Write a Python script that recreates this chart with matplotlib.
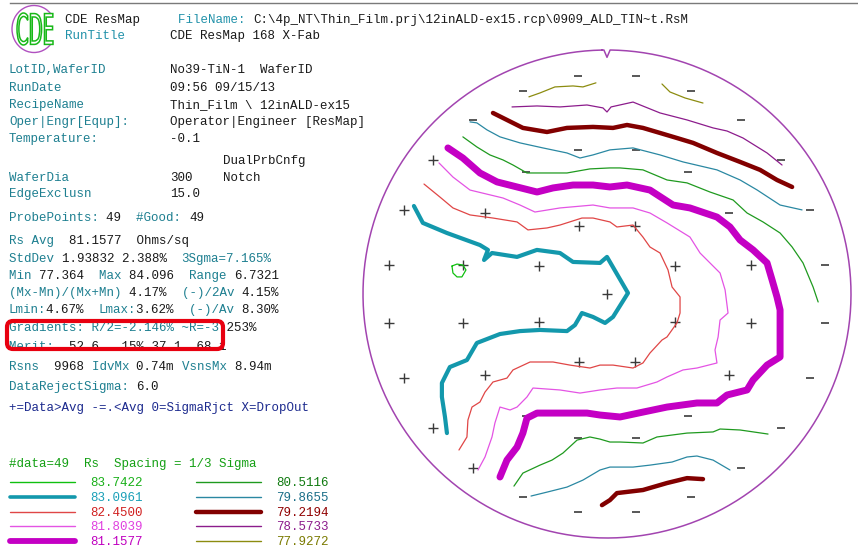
import numpy as np
import matplotlib
matplotlib.use("Agg")
import matplotlib.pyplot as plt
from matplotlib.patches import Arc, FancyBboxPatch, PathPatch
from matplotlib.textpath import TextPath
from matplotlib.font_manager import FontProperties
from matplotlib.transforms import Affine2D

# ---------------- data ----------------
levels = [83.7422, 83.0961, 82.4500, 81.8039, 81.1577,
          80.5116, 79.8655, 79.2194, 78.5733, 77.9272]

# contour paths (wafer coordinates, mm)
c_83_7422 = [[(-95.3, 17.2), (-92.2, 18.4), (-88.6, 17.8), (-86.7, 14.8), (-89.2, 10.5),
              (-92.2, 10.5), (-94.7, 12.9), (-95.3, 17.2)]]
c_83_0961 = [[(-118.7, 54.1), (-113.2, 43.7), (-98.4, 37.5), (-78.1, 30.1), (-73.2, 27.1),
              (-75.6, 20.9), (-70.7, 25.2), (-55.3, 22.8), (-43.1, 27.1), (-28.9, 25.2),
              (-20.9, 19.7), (-4.3, 19.1), (0.0, 22.8), (12.9, 0.6), (3.7, -14.1),
              (-1.2, -17.8), (-8.6, -14.1), (-15.4, -11.7), (-19.7, -19.1), (-24.6, -22.8),
              (-41.2, -22.1), (-53.5, -22.8), (-65.8, -24.6), (-80.0, -30.1), (-86.1, -40.6),
              (-96.6, -44.9), (-101.5, -54.7), (-101.5, -63.3), (-99.6, -75.6), (-98.4, -85.5)]]
c_82_4500 = [[(-112.5, 67.6), (-102.7, 59.6), (-94.7, 52.9), (-84.2, 48.6), (-70.1, 46.7),
              (-55.3, 44.3), (-48.6, 39.4), (-36.9, 40.6), (-28.9, 42.4), (-15.4, 46.7),
              (-8.6, 46.7), (1.8, 44.3), (6.1, 41.2), (16.0, 42.4), (22.1, 35.0),
              (26.4, 28.9), (32.6, 25.2), (37.5, 14.8), (40.0, 4.3), (44.9, -1.8),
              (44.9, -11.7), (43.0, -17.8), (36.9, -26.4), (33.8, -28.3), (26.4, -36.3),
              (22.1, -42.4), (16.0, -45.5), (3.7, -43.7), (-4.3, -43.7), (-10.5, -45.5),
              (-22.8, -43.7), (-33.2, -41.8), (-47.3, -41.8), (-57.8, -46.7), (-61.5, -51.7),
              (-70.1, -54.1), (-75.0, -60.3), (-78.1, -66.4), (-83.0, -69.5), (-85.5, -77.5),
              (-86.1, -87.9), (-91.0, -95.9)]]
c_81_8039 = [[(-103.3, 80.6), (-94.7, 71.9), (-84.2, 63.9), (-63.9, 59.0), (-53.5, 54.7),
              (-44.3, 50.4), (-28.9, 52.9), (-8.6, 54.7), (1.8, 52.9), (16.0, 52.9),
              (26.4, 49.8), (36.9, 43.7), (51.0, 35.0), (57.2, 25.2), (63.3, 19.1),
              (69.5, 12.9), (72.6, 2.5), (74.4, -11.7), (69.5, -16.0), (68.3, -26.4),
              (66.4, -34.4), (67.6, -42.4), (55.3, -45.5), (46.7, -46.7), (36.9, -51.0),
              (30.7, -54.1), (18.4, -57.8), (6.1, -57.8), (-4.3, -59.0), (-16.6, -60.9),
              (-28.9, -59.0), (-45.5, -57.8), (-49.2, -63.3), (-55.3, -69.5), (-59.6, -71.3),
              (-65.8, -69.5), (-68.9, -79.3), (-70.7, -87.9), (-75.0, -100.2), (-79.3, -108.2)]]
c_81_1577 = [[(-97.8, 89.8), (-88.6, 83.6), (-78.1, 74.4), (-67.6, 68.9), (-55.3, 65.8),
              (-43.0, 62.7), (-33.2, 65.2), (-20.9, 67.0), (-8.6, 67.0), (1.8, 65.8),
              (12.3, 67.0), (26.4, 63.9), (40.6, 54.7), (51.0, 52.9), (67.6, 47.3),
              (75.6, 41.2), (81.8, 33.2), (89.8, 27.1), (98.4, 19.1), (101.5, 8.6),
              (104.5, -1.8), (106.4, -9.8), (106.4, -38.7), (98.4, -43.7), (89.8, -52.9),
              (86.1, -59.0), (73.8, -62.1), (67.6, -67.0), (55.3, -67.0), (36.9, -69.5),
              (22.1, -72.6), (8.0, -75.6), (-4.3, -74.4), (-12.3, -73.2), (-27.1, -73.2),
              (-43.0, -73.2), (-49.2, -76.3), (-51.7, -85.5), (-55.3, -94.1), (-61.5, -102.1),
              (-65.8, -112.5)]]
c_80_5116 = [[(-88.6, 96.6), (-80.0, 90.4), (-72.0, 85.5), (-63.9, 82.4), (-57.8, 79.3),
              (-49.2, 74.4), (-36.9, 74.4), (-24.6, 74.4), (-10.5, 76.9), (1.8, 77.5),
              (8.0, 77.5), (22.1, 76.3), (36.9, 70.1), (49.2, 68.3), (63.3, 62.7),
              (77.5, 57.8), (86.1, 49.8), (95.9, 44.3), (106.4, 37.5), (113.8, 28.9),
              (120.5, 19.1), (126.7, 4.3), (129.8, -4.9)],
             [(-57.2, -118.1), (-51.7, -110.1), (-41.2, -105.2), (-33.8, -102.1), (-27.1, -97.8),
              (-18.4, -89.8), (-10.5, -87.9), (-4.3, -89.2), (1.8, -91.0), (8.0, -91.0),
              (22.1, -91.6), (30.7, -87.9), (49.2, -85.5), (65.2, -84.8), (69.5, -83.0),
              (81.8, -83.6), (99.0, -86.1)]]
c_79_8655 = [[(-84.2, 105.8), (-80.0, 105.2), (-73.8, 100.9), (-65.8, 96.6), (-53.5, 92.9),
              (-39.4, 89.8), (-24.6, 86.7), (-16.6, 83.6), (-8.6, 85.5), (1.8, 88.6),
              (16.0, 89.8), (32.6, 85.5), (46.7, 81.2), (67.6, 76.3), (81.8, 70.1),
              (92.2, 64.0), (106.4, 54.7), (119.9, 51.7)],
             [(-46.7, -124.2), (-36.9, -121.8), (-24.6, -118.7), (-14.8, -114.4), (-4.3, -108.2),
              (1.8, -106.4), (16.0, -106.4), (26.4, -105.2), (40.0, -103.3), (49.2, -100.2),
              (55.3, -99.6), (65.2, -102.1), (75.6, -108.2)]]
c_79_2194 = [[(-70.1, 111.3), (-61.5, 107.0), (-51.7, 102.1), (-36.9, 99.6), (-24.6, 102.1),
              (-8.6, 102.7), (3.7, 102.1), (12.3, 103.9), (22.1, 102.1), (32.6, 99.0),
              (43.0, 95.9), (52.9, 92.9), (67.6, 86.7), (81.8, 81.2), (94.1, 76.3),
              (104.5, 70.1), (113.8, 65.8)],
             [(-3.1, -129.8), (1.8, -126.7), (6.1, -122.4), (22.1, -120.5), (36.9, -116.2),
              (49.2, -113.2), (59.0, -113.8)]]
c_78_5733 = [[(-58.4, 115.0), (-43.0, 115.6), (-28.9, 115.0), (-12.3, 116.2), (-2.5, 114.4),
              (0.0, 111.9), (2.5, 115.0), (16.0, 118.0), (32.6, 111.3), (49.2, 107.0),
              (65.2, 102.1), (73.8, 100.2), (83.6, 95.9), (98.4, 86.7), (107.6, 79.3)]]
c_77_9272 = [[(-48.0, 121.2), (-41.2, 123.6), (-32.0, 127.3), (-20.9, 127.9), (-14.8, 127.3),
              (-6.8, 129.8)],
             [(33.8, 129.1), (38.7, 124.2), (48.0, 120.5), (59.0, 117.4)]]
contours = [c_83_7422, c_83_0961, c_82_4500, c_81_8039, c_81_1577,
            c_80_5116, c_79_8655, c_79_2194, c_78_5733, c_77_9272]

# 49-point probe pattern: ring radii (mm), counts, start angles (deg), signs
center_sign = "+"
ring_radius = [45, 90, 135]
ring_count = [8, 16, 24]
ring_start = [22.5, 11.25, 7.5]
ring_signs = ["++++++++", "+-----++++----++", "---------+++++++--------"]

# ---------------- styles ----------------
line_colors = ["#10c010", "#1398ac", "#e04646", "#e454e4", "#c400c4",
               "#1f9a1f", "#2a88a2", "#820000", "#8c1c8c", "#8c8c10"]
label_colors = ["#18b018", "#1aa0b8", "#d02020", "#e040e0", "#c000c0",
                "#107a10", "#1a6e88", "#900000", "#8c1c8c", "#7a7a00"]
map_widths = [0.9, 3.0, 0.9, 0.9, 5.0, 0.9, 0.9, 3.2, 0.9, 0.9]
leg_widths = [1.0, 2.6, 1.0, 1.0, 4.2, 1.0, 1.0, 3.2, 1.0, 1.0]

W, H = 858, 547
fig = plt.figure(figsize=(W / 100, H / 100), dpi=100)
fig.patch.set_facecolor("white")

# ---------------- wafer map ----------------
cx, cy, rpx = 607, 294, 244
lim = 160
span = 2 * lim / 150 * rpx
axw = fig.add_axes([(cx - span / 2) / W, (H - cy - span / 2) / H, span / W, span / H])
axw.set_xlim(-lim, lim)
axw.set_ylim(-lim, lim)
axw.axis("off")

# wafer outline with notch
th = np.radians(np.linspace(91.2, 91.2 + 357.6, 720))
ox = list(150 * np.cos(th))
oy = list(150 * np.sin(th))
ox += [1.9, 0.0, -1.9, ox[0]]
oy += [150 * np.sin(np.radians(89.2)), 145.5, 150 * np.sin(np.radians(90.8)), oy[0]]
axw.plot(ox, oy, color="#a244b0", lw=1.1, zorder=2)

# probe points
px, py, ps = [0.0], [0.0], [center_sign]
for r, n, a0, sg in zip(ring_radius, ring_count, ring_start, ring_signs):
    ang = np.radians(a0 + 360.0 / n * np.arange(n))
    px += list(r * np.cos(ang))
    py += list(r * np.sin(ang))
    ps += list(sg)
px, py, ps = np.array(px), np.array(py), np.array(ps)
axw.plot(px[ps == "+"], py[ps == "+"], ls="none", marker="+", ms=6.5, mew=1.0,
         color="#3a3a3a", zorder=1)
axw.plot(px[ps == "-"], py[ps == "-"], ls="none", marker="_", ms=6.0, mew=1.3,
         color="#4a4a4a", zorder=1)

for segs, col, lw in zip(contours, line_colors, map_widths):
    for seg in segs:
        xs, ys = zip(*seg)
        axw.plot(xs, ys, color=col, lw=lw, solid_capstyle="round",
                 solid_joinstyle="round", zorder=3)

# ---------------- text panel ----------------
ov = fig.add_axes([0, 0, 1, 1], facecolor="none")
ov.set_xlim(0, W)
ov.set_ylim(H, 0)
ov.axis("off")

MONO = "Liberation Mono"
FS = 9
CW = 7.5
TEAL = "#1d7f90"
TEAL2 = "#2292aa"
BLK = "#1a1a1a"
DBLUE = "#1c2a8e"
GRN = "#14a014"


def line(x, y, parts):
    i = 0
    for s, c in parts:
        ov.text(x + i * CW, y + 4, s, color=c, fontsize=FS, family=MONO,
                va="baseline", ha="left")
        i += len(s)


ov.plot([10, W], [3, 3], color="#7a7a7a", lw=1.0)

# logo: condensed outlined "CDE" inside an open purple ring
ov.add_patch(Arc((34, 29), 44, 47, theta1=40, theta2=318, color="#b050c0", lw=1.0))
tp = TextPath((0, 0), "CDE", size=20, prop=FontProperties(family="DejaVu Sans"))
ext = tp.get_extents()
sx = 36.0 / ext.width
sy = 32.0 / ext.height
logo_tr = Affine2D().translate(-ext.x0, -ext.y0).scale(sx, -sy).translate(17, 45) + ov.transData
ov.add_patch(PathPatch(tp, transform=logo_tr, facecolor="white", edgecolor="#18b818", lw=1.1))

line(65, 19, [("CDE ResMap", BLK)])
line(178, 19, [("FileName: ", TEAL2),
               ("C:\\4p_NT\\Thin_Film.prj\\12inALD-ex15.rcp\\0909_ALD_TIN~t.RsM", BLK)])
line(65, 35, [("RunTitle", TEAL2)])
line(170, 35, [("CDE ResMap 168 X-Fab", BLK)])

rows = [(69, "LotID,WaferID", "No39-TiN-1  WaferID"),
        (87, "RunDate", "09:56 09/15/13"),
        (104, "RecipeName", "Thin_Film \\ 12inALD-ex15"),
        (121, "Oper|Engr[Equp]:", "Operator|Engineer [ResMap]"),
        (138, "Temperature:", "-0.1"),
        (177, "WaferDia", "300"),
        (193, "EdgeExclusn", "15.0")]
for y, lab, val in rows:
    line(9, y, [(lab, TEAL)])
    line(170, y, [(val, BLK)])
line(223, 160, [("DualPrbCnfg", BLK)])
line(223, 177, [("Notch", BLK)])

line(9, 217, [("ProbePoints: ", TEAL), ("49  ", BLK), ("#Good: ", TEAL), ("49", BLK)])
line(9, 240, [("Rs Avg  ", TEAL), ("81.1577  Ohms/sq", BLK)])
line(9, 258, [("StdDev ", TEAL), ("1.93832 2.388%  ", BLK), ("3Sgma=7.165%", TEAL)])
line(9, 275, [("Min ", TEAL), ("77.364  ", BLK), ("Max ", TEAL), ("84.096  ", BLK),
              ("Range ", TEAL), ("6.7321", BLK)])
line(9, 292, [("(Mx-Mn)/(Mx+Mn) ", TEAL), ("4.17%  ", BLK), ("(-)/2Av ", TEAL),
              ("4.15%", BLK)])
line(9, 309, [("Lmin:", TEAL), ("4.67%  ", BLK), ("Lmax:", TEAL), ("3.62%  ", BLK),
              ("(-)/Av ", TEAL), ("8.30%", BLK)])
line(9, 327, [("Gradients: R/2=-2.146% ~R=-3", TEAL), (".253%", BLK)])
line(9, 346, [("Merit:  ", TEAL), ("52.6  .15% 37.1  68.1", BLK)])
line(9, 366, [("Rsns  ", TEAL), ("9968 ", BLK), ("IdvMx ", TEAL), ("0.74m ", BLK),
              ("VsnsMx ", TEAL), ("8.94m", BLK)])
line(9, 386, [("DataRejectSigma: ", TEAL), ("6.0", BLK)])
line(9, 407, [("+=Data>Avg -=.<Avg 0=SigmaRjct X=DropOut", DBLUE)])
line(9, 463, [("#data=49  Rs  Spacing = 1/3 Sigma", GRN)])

# red highlight box
ov.add_patch(FancyBboxPatch((7, 321), 216, 28, boxstyle="round,pad=0,rounding_size=6",
                            fill=False, ec="#e80010", lw=3.0, zorder=5))

# legend
leg_rows = [482, 497, 512, 526, 541]
for i, (lev, lc, tc, lw) in enumerate(zip(levels, line_colors, label_colors, leg_widths)):
    col, row = divmod(i, 5)
    x0 = 10 if col == 0 else 196
    y = leg_rows[row]
    ov.plot([x0, x0 + 65], [y, y], color=lc, lw=lw, solid_capstyle="round")
    line(x0 + 80, y, [("%.4f" % lev, tc)])

fig.savefig("out.png", dpi=100, facecolor="white")
